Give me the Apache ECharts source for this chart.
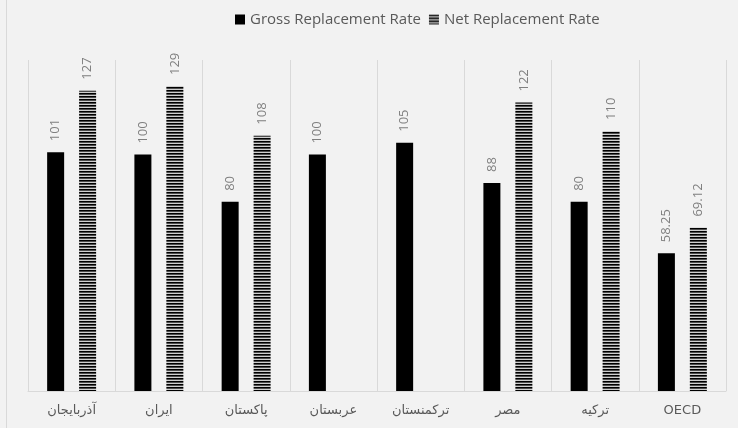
<!DOCTYPE html>
<html>
<head>
<meta charset="utf-8">
<script src="https://cdn.jsdelivr.net/npm/echarts@6/dist/echarts.min.js"></script>
<style>
html,body{margin:0;padding:0;background:#f2f2f2;}
#c{width:738px;height:428px;}
</style>
</head>
<body>
<div id="c"></div>
<script>
var categories = ['آذربایجان', 'ایران', 'پاکستان', 'عربستان', 'ترکمنستان', 'مصر', 'ترکیه', 'OECD'];
var grossValues = [101, 100, 80, 100, 105, 88, 80, 58.25];
var netValues = [127, 129, 108, null, null, 122, 110, 69.12];
var seriesNames = ['Gross Replacement Rate', 'Net Replacement Rate'];

var pc = document.createElement('canvas');
pc.width = 4; pc.height = 3;
var ctx = pc.getContext('2d');
ctx.fillStyle = '#000000'; ctx.fillRect(0, 0, 4, 1);
ctx.fillStyle = '#4d4d4d'; ctx.fillRect(0, 1, 4, 1);
ctx.fillStyle = '#cfcfcf'; ctx.fillRect(0, 2, 4, 1);
var stripe = {image: pc, repeat: 'repeat'};

var chart = echarts.init(document.getElementById('c'));
var labelStyle = {
  show: true, position: 'top', rotate: 90, align: 'left', verticalAlign: 'middle',
  distance: 11, color: '#7f7f7f', fontSize: 13, fontFamily: 'Open Sans',
  formatter: function (p) { return p.value == null ? '' : String(p.value); }
};
chart.setOption({
  backgroundColor: '#f2f2f2',
  animation: false,
  legend: {
    top: 7, left: 230, itemWidth: 10, itemHeight: 10, itemGap: 8,
    textStyle: {color: '#595959', fontSize: 15, fontFamily: 'Open Sans'},
    data: [{name: seriesNames[0], icon: 'rect'}, {name: seriesNames[1], icon: 'rect'}]
  },
  grid: {left: 28, right: 12, top: 60, bottom: 37},
  xAxis: {
    type: 'category', data: categories,
    axisLine: {lineStyle: {color: '#d9d9d9'}},
    axisTick: {show: false},
    splitLine: {show: true, lineStyle: {color: '#d9d9d9'}},
    axisLabel: {color: '#595959', fontSize: 13, margin: 13, fontFamily: 'DejaVu Sans', interval: 0}
  },
  yAxis: {type: 'value', min: 0, max: 140, show: false, splitLine: {show: false}},
  graphic: [{type: 'line', shape: {x1: 6.5, y1: 0, x2: 6.5, y2: 428}, style: {stroke: '#d9d9d9', lineWidth: 1}}],
  series: [
    {name: seriesNames[0], type: 'bar', data: grossValues, barWidth: 17, barGap: '88%',
     itemStyle: {color: '#000000'}, label: labelStyle},
    {name: seriesNames[1], type: 'bar', data: netValues, barWidth: 17,
     itemStyle: {color: stripe}, label: labelStyle}
  ]
});
</script>
</body>
</html>
